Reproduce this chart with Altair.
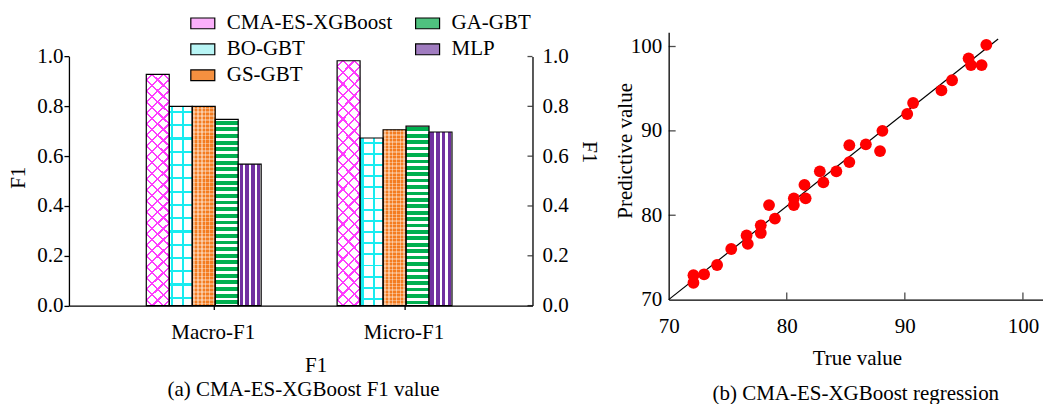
import altair as alt
import pandas as pd

# ---------------- data ----------------
groups = ["Macro-F1", "Micro-F1"]
models = ["CMA-ES-XGBoost", "BO-GBT", "GS-GBT", "GA-GBT", "MLP"]
macro_f1 = [0.928, 0.800, 0.800, 0.748, 0.568]
micro_f1 = [0.983, 0.673, 0.706, 0.721, 0.697]
legend_colors = ["#fbb0fb", "#b8f5f5", "#f59040", "#4fc27f", "#a07cc0"]
bar_ticks = [0.0, 0.2, 0.4, 0.6, 0.8, 1.0]

true_value = [72.1, 72.1, 73.0, 74.1, 75.3, 76.6, 76.7, 77.8, 77.8, 78.5, 79.0,
              80.6, 80.6, 81.5, 81.6, 82.8, 83.1, 84.2, 85.3, 85.3, 86.7, 87.9,
              88.1, 90.2, 90.7, 93.1, 94.0, 95.4, 95.6, 96.5, 96.9]
predictive_value = [72.9, 72.0, 73.0, 74.1, 76.0, 77.6, 76.6, 78.8, 77.9, 81.2, 79.6,
                    82.0, 81.2, 83.6, 82.0, 85.2, 83.9, 85.2, 88.3, 86.3, 88.4, 87.6,
                    90.0, 92.0, 93.3, 94.8, 96.0, 98.6, 97.8, 97.8, 100.2]
fit_x = [70.0, 97.9]
fit_y = [70.0, 100.9]
scatter_ticks = [70, 80, 90, 100]
inner_ticks = [80, 90, 100]

FONT = "Liberation Serif"
FS = 21

# ---------------- helpers ----------------
CLEAR = "rgba(255,255,255,0)"


def band_gradient(color, bg, starts, width, x1, y1, x2, y2):
    stops = [alt.GradientStop(color=bg, offset=0)]
    for s in starts:
        e = min(s + width, 1.0)
        stops += [alt.GradientStop(color=bg, offset=s), alt.GradientStop(color=color, offset=s),
                  alt.GradientStop(color=color, offset=e), alt.GradientStop(color=bg, offset=e)]
    stops.append(alt.GradientStop(color=bg, offset=1))
    return alt.LinearGradient(gradient="linear", stops=stops, x1=x1, y1=y1, x2=x2, y2=y2)


def periodic(n, phase=0.0):
    return [(i + phase) / n for i in range(n) if (i + phase) / n < 1]


# ---------------- bar chart ----------------
rows = []
for g, vals in zip(groups, [macro_f1, micro_f1]):
    for m, v in zip(models, vals):
        rows.append({"group": g, "model": m, "value": v})
bars = pd.DataFrame(rows)
ticks_df = pd.DataFrame({"value": bar_ticks})

W_L, H_L, TOP_L = 464, 273.7, 24.4
ys = alt.Scale(domain=[0, 1], range=[H_L, TOP_L], nice=False, zero=True)
xs = alt.Scale(paddingInner=0.398, paddingOuter=0.4136, align=0.49)
xo = alt.XOffset("model:N", scale=alt.Scale(domain=models, paddingInner=0, paddingOuter=0))

x_axis = alt.Axis(title="F1", labelAngle=0, tickSize=4, labelPadding=12,
                  tickOffset=10, labelOffset=-1,
                  domain=True, domainWidth=1.3, tickWidth=1.3, titleX=247, titleY=60,
                  titleAlign="center", titleBaseline="middle")
y_axis = alt.Axis(title="F1", values=bar_ticks, format=".1f", tickSize=5, labelPadding=1,
                  labelFlush=False,
                  domain=True, domainWidth=1.3, tickWidth=1.3, titleX=-50.5, titleY=145.2,
                  titleAlign="center", titleBaseline="middle", titleAngle=270)
x_enc = alt.X("group:N", scale=xs, axis=x_axis, sort=groups)

base = alt.Chart(bars).mark_bar(strokeWidth=0).encode(
    x=x_enc,
    xOffset=xo,
    y=alt.Y("value:Q", scale=ys, axis=y_axis),
    color=alt.Color("model:N", scale=alt.Scale(domain=models, range=legend_colors),
                    legend=alt.Legend(title=None, orient="none", legendX=121, legendY=-21.8,
                                      columns=2, columnPadding=20, rowPadding=3,
                                      symbolType="M-1,-0.45H1V0.45H-1Z", symbolSize=576,
                                      symbolStrokeColor="black", symbolStrokeWidth=1.2,
                                      labelOffset=11, labelLimit=400, labelFontSize=FS,
                                      labelFont=FONT, labelColor="black")),
)


def overlay(model, grad):
    return alt.Chart(bars).transform_filter(alt.datum.model == model).mark_bar(
        fill=grad, strokeWidth=0).encode(
        x=x_enc,
        xOffset=xo,
        y=alt.Y("value:Q", scale=ys, axis=None),
    )


# CMA-ES-XGBoost: magenta diamond hatch (two diagonal line sets)
w, h = 23.0, 238.0
k = (w + h) / (w * w + h * h)
n_d = 23
mag = "#ff3cff"
cma1 = band_gradient(mag, "white", periodic(n_d, 0.4), 0.2 / n_d, 0, 1, k * w, 1 - k * h)
cma2 = band_gradient(mag, CLEAR, periodic(n_d, 0.4), 0.2 / n_d, 0, 0, k * w, k * h)
# BO-GBT: cyan grid
cyan = "#19ecf0"
bo1 = band_gradient(cyan, "white", [0.06, 0.56], 0.09, 0, 0, 1, 0)
bo2 = band_gradient(cyan, CLEAR, periodic(15, 0.5), 0.011, 0, 1, 0, 0)
# GS-GBT: orange with light dots
orange = "#f47c20"
dot = "rgba(255,255,255,0.33)"
gs1 = band_gradient(dot, orange, periodic(6, 0.3), 0.4 / 6, 0, 0, 1, 0)
gs2 = band_gradient(dot, CLEAR, periodic(51, 0.3), 0.4 / 51, 0, 1, 0, 0)
# GA-GBT: green horizontal stripes
ga = band_gradient("#00b050", "white", periodic(28, 0.2), 0.58 / 28, 0, 1, 0, 0)
# MLP: purple vertical stripes
mlp = band_gradient("#7030a0", "white", periodic(4, 0.25), 0.6 / 4, 0, 0, 1, 0)

outline = alt.Chart(bars).mark_bar(fillOpacity=0, stroke="black", strokeWidth=1.2).encode(
    x=x_enc,
    xOffset=xo,
    y=alt.Y("value:Q", scale=ys, axis=None),
)

right_axis = alt.Chart(ticks_df).mark_tick(orient="horizontal", size=5, thickness=1.3,
                                           color="black").encode(
    x=alt.value(W_L - 2.5),
    y=alt.Y("value:Q", scale=ys,
            axis=alt.Axis(orient="right", title="F1", values=bar_ticks, format=".1f",
                          ticks=False, labelPadding=9.5, labelFlush=False,
                          domain=True, domainWidth=1.3,
                          titleX=56, titleY=119.7, titleAngle=90,
                          titleAlign="center", titleBaseline="middle")),
)

left = alt.layer(
    base,
    overlay("CMA-ES-XGBoost", cma1), overlay("CMA-ES-XGBoost", cma2),
    overlay("BO-GBT", bo1), overlay("BO-GBT", bo2),
    overlay("GS-GBT", gs1), overlay("GS-GBT", gs2),
    overlay("GA-GBT", ga),
    overlay("MLP", mlp),
    outline,
    right_axis,
).resolve_axis(y="independent").properties(
    width=W_L, height=H_L,
    title=alt.TitleParams("(a) CMA-ES-XGBoost F1 value", orient="bottom", anchor="middle",
                          frame="bounds", offset=3),
)

# ---------------- scatter ----------------
W_R, H_R = 374.7, 267.7
pts = pd.DataFrame({"true": true_value, "pred": predictive_value})
fit = pd.DataFrame({"true": fit_x, "pred": fit_y})
xsc = alt.Scale(domain=[70, 101.7], nice=False, zero=False)
ysc = alt.Scale(domain=[70, 101.7], nice=False, zero=False)
sx_axis = alt.Axis(title="True value", values=scatter_ticks, ticks=False, domain=True,
                   labelPadding=16, labelFlush=False, domainWidth=1.3, titleX=188.4, titleY=59,
                   titleAlign="center", titleBaseline="middle")
sy_axis = alt.Axis(title="Predictive value", values=scatter_ticks, ticks=False, domain=True,
                   labelPadding=7, domainWidth=1.3, titleX=-43.3, titleY=118.3,
                   titleAngle=270, titleAlign="center", titleBaseline="middle")
sx = alt.X("true:Q", scale=xsc, axis=sx_axis)
sy = alt.Y("pred:Q", scale=ysc, axis=sy_axis)

line = alt.Chart(fit).mark_line(color="black", strokeWidth=1.2).encode(x=sx, y=sy)
points = alt.Chart(pts).mark_circle(size=140, color="#ff0000", opacity=1).encode(x=sx, y=sy)
xt = alt.Chart(pd.DataFrame({"true": inner_ticks})).mark_tick(
    orient="vertical", size=7, thickness=1.3, color="black").encode(
    x=sx, y=alt.value(H_R - 3.5))
yt = alt.Chart(pd.DataFrame({"pred": inner_ticks})).mark_tick(
    orient="horizontal", size=7, thickness=1.3, color="black").encode(
    y=sy, x=alt.value(3.5))

right = alt.layer(line, points, xt, yt).properties(
    width=W_R, height=H_R,
    title=alt.TitleParams("(b) CMA-ES-XGBoost regression", orient="bottom", anchor="middle",
                          frame="group", offset=14),
)

chart = alt.hconcat(left, right, spacing=136.3, bounds="flush").properties(
    padding={"left": 7, "top": 10, "right": 0, "bottom": 0},
).configure_axis(
    labelFont=FONT, titleFont=FONT, labelFontSize=FS, titleFontSize=FS,
    labelColor="black", titleColor="black", titleFontWeight="normal",
    domainColor="black", tickColor="black", grid=False,
).configure_title(
    font=FONT, fontSize=FS, fontWeight="normal", color="black",
).configure_view(stroke=None)

chart.save("out.html", embed_options={"renderer": "svg", "actions": False})
